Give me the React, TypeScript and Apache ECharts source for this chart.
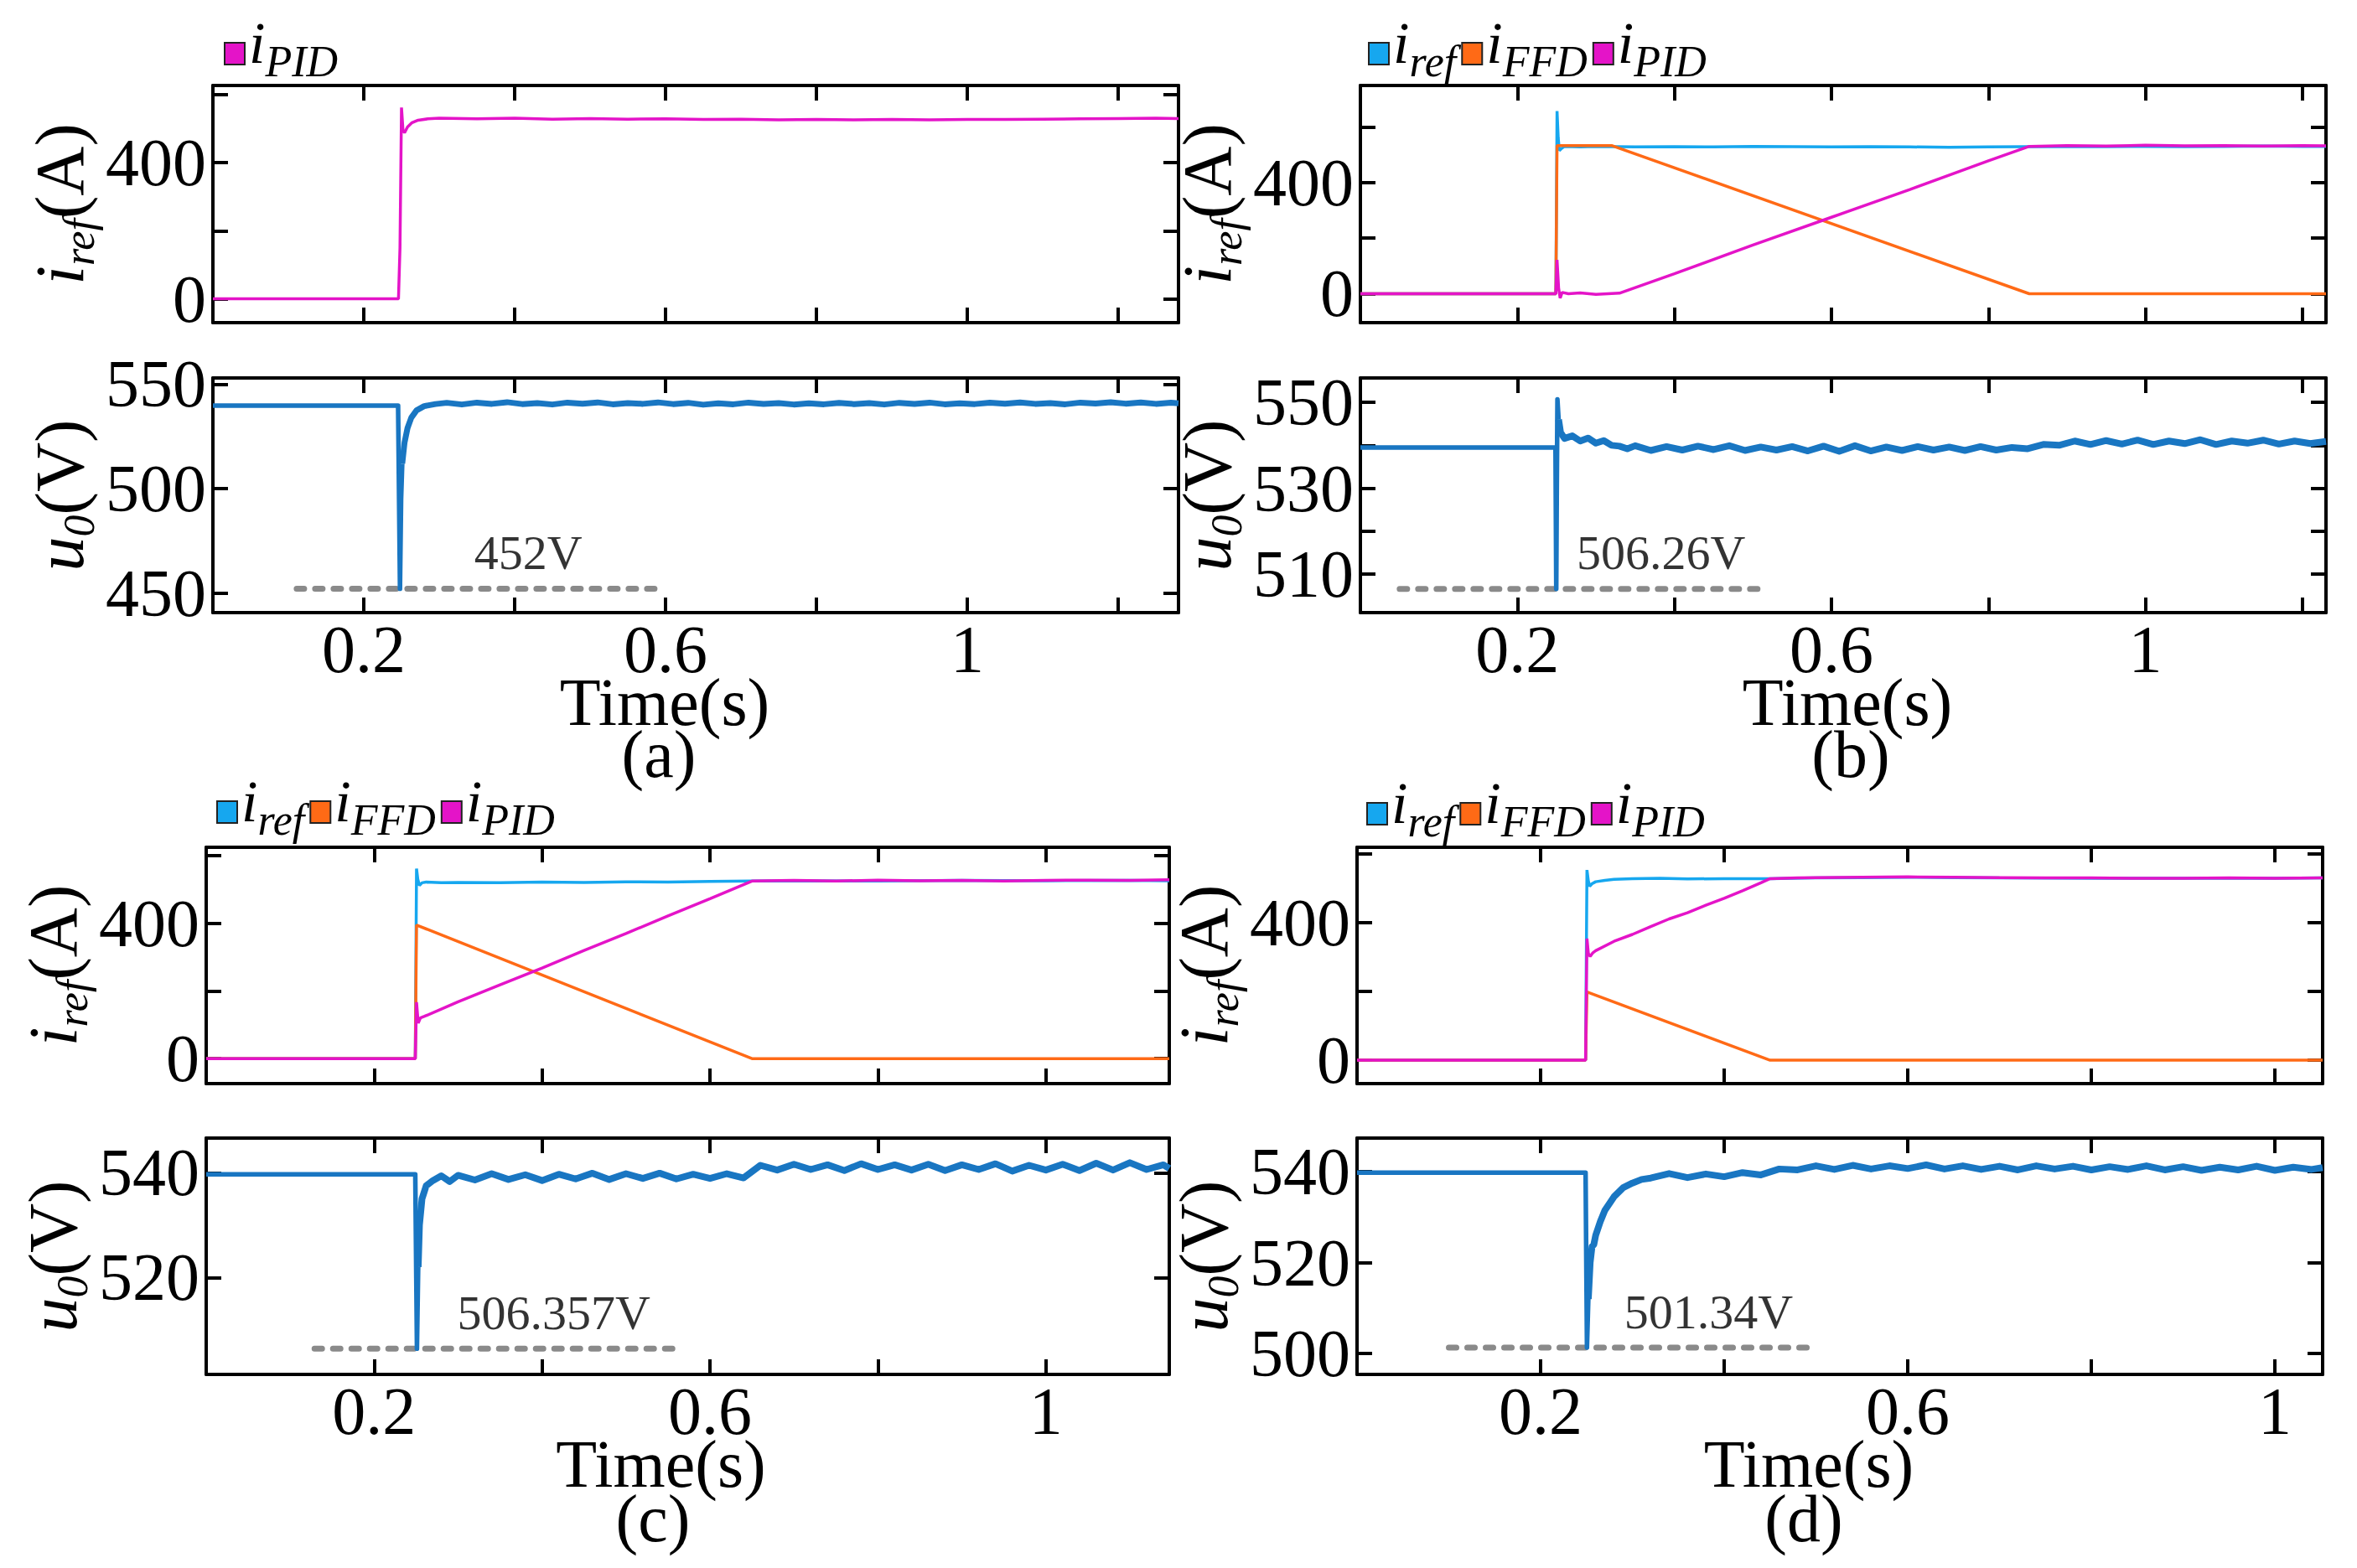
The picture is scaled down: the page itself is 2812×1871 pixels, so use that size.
import React, { useEffect, useRef } from "react";
import * as echarts from "echarts";

type Pt = [number, number];

// ---- panel (a) ----
const pidA: Pt[] = [
  [0, 0], [0.246, 0], [0.248, 150], [0.25, 562], [0.252, 495], [0.254, 488], [0.258, 505],
  [0.264, 518], [0.272, 525], [0.285, 529], [0.3, 531], [0.35, 529], [0.4, 531], [0.45, 528],
  [0.5, 530], [0.55, 528], [0.6, 529], [0.65, 527], [0.7, 528], [0.75, 526], [0.8, 527],
  [0.85, 526], [0.9, 527], [0.95, 526], [1.0, 527], [1.05, 527], [1.1, 528], [1.15, 529],
  [1.2, 530], [1.25, 531], [1.28, 530],
];
// u0: step transient, then noisy steady state
const u0A_tr: Pt[] = [[0, 539.8], [0.2455, 539.8], [0.248, 452], [0.2495, 495], [0.251, 512]];
const u0A_ss: Pt[] = [
  [0.251, 512], [0.254, 522], [0.258, 529], [0.263, 534], [0.27, 537.5], [0.28, 539.5],
  [0.295, 540.5], [0.31, 541.1], [0.33, 540.3], [0.35, 541.2], [0.37, 540.6], [0.39, 541.4],
  [0.41, 540.5], [0.43, 541.0], [0.45, 540.3], [0.47, 541.2], [0.49, 540.7], [0.51, 541.3],
  [0.53, 540.4], [0.55, 541.0], [0.57, 540.6], [0.59, 541.3], [0.61, 540.5], [0.63, 541.1],
  [0.65, 540.2], [0.67, 540.9], [0.69, 540.4], [0.71, 541.2], [0.73, 540.6], [0.75, 541.0],
  [0.77, 540.3], [0.79, 540.9], [0.81, 540.4], [0.83, 541.1], [0.85, 540.5], [0.87, 541.0],
  [0.89, 540.3], [0.91, 541.1], [0.93, 540.6], [0.95, 541.2], [0.97, 540.4], [0.99, 540.9],
  [1.01, 540.5], [1.03, 541.2], [1.05, 540.7], [1.07, 541.3], [1.09, 540.6], [1.11, 541.0],
  [1.13, 540.4], [1.15, 541.2], [1.17, 540.8], [1.19, 541.4], [1.21, 540.7], [1.23, 541.3],
  [1.25, 540.6], [1.27, 541.2], [1.28, 540.9],
];
const minLineA: Pt[] = [[0.111, 452], [0.596, 452]];
const minNoteA = { value: [0.418, 452], name: "452V" };

// ---- panel (b) ----
const refB: Pt[] = [
  [0, 0], [0.249, 0], [0.2505, 657], [0.252, 560], [0.2535, 515], [0.256, 522], [0.26, 530],
  [0.28, 528], [0.3, 530], [0.35, 528], [0.4, 529], [0.45, 528], [0.5, 530], [0.55, 529],
  [0.6, 528], [0.65, 529], [0.7, 528], [0.75, 527], [0.8, 528], [0.85, 529], [0.9, 530],
  [0.95, 529], [1.0, 530], [1.05, 529], [1.1, 530], [1.15, 531], [1.2, 530], [1.23, 530],
];
const ffdB: Pt[] = [[0, 0], [0.249, 0], [0.2505, 533], [0.32, 533], [0.852, 0], [1.23, 0]];
const pidB: Pt[] = [
  [0, 0], [0.249, 0], [0.2505, 122], [0.2525, 20], [0.2545, -16], [0.257, 5], [0.265, 0],
  [0.28, 3], [0.3, -2], [0.33, 2], [0.4, 72], [0.5, 175], [0.6, 275], [0.7, 375], [0.8, 478],
  [0.852, 530], [0.9, 533], [0.95, 531], [1.0, 534], [1.05, 532], [1.1, 533], [1.15, 531],
  [1.2, 533], [1.23, 532],
];
const u0B_tr: Pt[] = [[0, 539.5], [0.2485, 539.5], [0.2495, 506.5], [0.2502, 530], [0.251, 550.7], [0.2525, 546]];
const u0B_ss: Pt[] = [
  [0.2525, 546], [0.255, 543], [0.26, 541.6], [0.27, 542.2], [0.28, 541.0], [0.29, 541.7],
  [0.3, 540.5], [0.31, 541.1], [0.32, 540.0], [0.33, 539.8], [0.34, 539.2], [0.35, 539.9],
  [0.37, 538.8], [0.39, 539.7], [0.41, 538.9], [0.43, 539.8], [0.45, 539.0], [0.47, 539.9],
  [0.49, 538.8], [0.51, 539.6], [0.53, 538.9], [0.55, 539.7], [0.57, 538.7], [0.59, 539.8],
  [0.61, 538.6], [0.63, 539.9], [0.65, 538.7], [0.67, 539.6], [0.69, 538.8], [0.71, 539.7],
  [0.73, 538.9], [0.75, 539.6], [0.77, 538.8], [0.79, 539.7], [0.81, 538.9], [0.83, 539.5],
  [0.85, 539.2], [0.87, 540.2], [0.89, 540.0], [0.91, 541.0], [0.93, 540.2], [0.95, 541.1],
  [0.97, 540.3], [0.99, 541.2], [1.01, 540.2], [1.03, 541.0], [1.05, 540.4], [1.07, 541.3],
  [1.09, 540.2], [1.11, 541.0], [1.13, 540.5], [1.15, 541.2], [1.17, 540.3], [1.19, 541.0],
  [1.21, 540.4], [1.23, 540.9],
];
const minLineB: Pt[] = [[0.05, 506.5], [0.516, 506.5]];
const minNoteB = { value: [0.383, 506.5], name: "506.26V" };

// ---- panel (c) ----
const refC: Pt[] = [
  [0, 0], [0.249, 0], [0.2505, 562], [0.252, 530], [0.254, 512], [0.257, 520], [0.262, 522],
  [0.28, 520], [0.3, 521], [0.35, 520], [0.4, 522], [0.45, 521], [0.5, 523], [0.55, 522],
  [0.6, 524], [0.65, 525], [0.7, 526], [0.8, 525], [0.9, 527], [1.0, 526], [1.1, 527], [1.147, 526],
];
const ffdC: Pt[] = [[0, 0], [0.249, 0], [0.2505, 395], [0.65, 0], [1.147, 0]];
const pidC: Pt[] = [
  [0, 0], [0.249, 0], [0.2505, 167], [0.2525, 105], [0.255, 120], [0.26, 125], [0.3, 168],
  [0.35, 218], [0.4, 268], [0.45, 320], [0.5, 370], [0.55, 422], [0.6, 473], [0.65, 525],
  [0.7, 527], [0.75, 525], [0.8, 528], [0.85, 526], [0.9, 527], [0.95, 525], [1.0, 527],
  [1.05, 528], [1.1, 527], [1.147, 529],
];
const u0C_tr: Pt[] = [[0, 539.7], [0.249, 539.7], [0.251, 506.4], [0.2525, 522]];
const u0C_ss: Pt[] = [
  [0.2525, 522], [0.254, 530], [0.257, 535], [0.262, 537.5], [0.27, 538.5], [0.28, 539.4],
  [0.29, 538.3], [0.3, 539.5], [0.32, 538.6], [0.34, 539.8], [0.36, 538.7], [0.38, 539.6],
  [0.4, 538.5], [0.42, 539.7], [0.44, 538.8], [0.46, 539.9], [0.48, 538.7], [0.5, 539.8],
  [0.52, 538.9], [0.54, 539.9], [0.56, 538.8], [0.58, 539.7], [0.6, 538.9], [0.62, 539.8],
  [0.64, 539.0], [0.65, 540.2], [0.66, 541.4], [0.68, 540.5], [0.7, 541.6], [0.72, 540.6],
  [0.74, 541.5], [0.76, 540.4], [0.78, 541.7], [0.8, 540.6], [0.82, 541.5], [0.84, 540.5],
  [0.86, 541.6], [0.88, 540.4], [0.9, 541.5], [0.92, 540.6], [0.94, 541.7], [0.96, 540.3],
  [0.98, 541.4], [1.0, 540.5], [1.02, 541.6], [1.04, 540.4], [1.06, 541.8], [1.08, 540.5],
  [1.1, 541.9], [1.12, 540.6], [1.14, 541.5], [1.147, 540.8],
];
const minLineC: Pt[] = [[0.129, 506.4], [0.564, 506.4]];
const minNoteC = { value: [0.414, 506.4], name: "506.357V" };

// ---- panel (d) ----
const refD: Pt[] = [
  [0, 0], [0.249, 0], [0.2505, 552], [0.252, 520], [0.2535, 505], [0.256, 512], [0.26, 518],
  [0.27, 522], [0.28, 525], [0.3, 527], [0.33, 528], [0.36, 526], [0.4, 527], [0.45, 527],
  [0.5, 529], [0.55, 530], [0.6, 531], [0.65, 530], [0.7, 529], [0.8, 528], [0.9, 528],
  [1.0, 528], [1.052, 529],
];
const ffdD: Pt[] = [[0, 0], [0.249, 0], [0.2505, 198], [0.45, 0], [1.052, 0]];
const pidD: Pt[] = [
  [0, 0], [0.249, 0], [0.2505, 353], [0.252, 310], [0.254, 301], [0.257, 312], [0.26, 318],
  [0.28, 345], [0.3, 365], [0.32, 388], [0.34, 410], [0.36, 428], [0.38, 450], [0.4, 470],
  [0.42, 492], [0.44, 515], [0.45, 527], [0.48, 529], [0.5, 530], [0.55, 531], [0.6, 532],
  [0.65, 531], [0.7, 530], [0.75, 529], [0.8, 529], [0.85, 528], [0.9, 528], [0.95, 529],
  [1.0, 528], [1.052, 529],
];
const u0D_tr: Pt[] = [[0, 539.8], [0.249, 539.8], [0.2505, 501.3], [0.252, 512]];
const u0D_ss: Pt[] = [
  [0.252, 512], [0.254, 520], [0.256, 523.5], [0.258, 524], [0.26, 526], [0.265, 529],
  [0.27, 531.5], [0.28, 534.5], [0.29, 536.5], [0.3, 537.5], [0.31, 538.3], [0.32, 538.6],
  [0.34, 539.6], [0.36, 538.7], [0.38, 539.5], [0.4, 538.9], [0.42, 539.8], [0.44, 539.3],
  [0.46, 540.6], [0.48, 540.4], [0.5, 541.3], [0.52, 540.5], [0.54, 541.4], [0.56, 540.6],
  [0.58, 541.3], [0.6, 540.7], [0.62, 541.5], [0.64, 540.6], [0.66, 541.3], [0.68, 540.5],
  [0.7, 541.2], [0.72, 540.4], [0.74, 541.3], [0.76, 540.6], [0.78, 541.2], [0.8, 540.4],
  [0.82, 541.1], [0.84, 540.5], [0.86, 541.3], [0.88, 540.4], [0.9, 541.1], [0.92, 540.3],
  [0.94, 541.0], [0.96, 540.4], [0.98, 541.2], [1.0, 540.3], [1.02, 541.0], [1.04, 540.5],
  [1.052, 540.9],
];
const minLineD: Pt[] = [[0.1, 501.3], [0.497, 501.3]];
const minNoteD = { value: [0.383, 501.3], name: "501.34V" };

// ---- axes: ranges, ticks, labels ----
const xRanges = [1.28, 1.23, 1.147, 1.052];
const xTicksLong = [0.2, 0.4, 0.6, 0.8, 1.0, 1.2];
const xTicksShort = [0.2, 0.4, 0.6, 0.8, 1.0];
const xLabels = [0.2, 0.6, 1];
const curRanges: Pt[] = [[-70, 627], [-104, 749], [-74, 625], [-68, 618]];
const curTicks = [0, 200, 400, 600];
const curLabels = [0, 400];
const u0Ranges: Pt[] = [[440.6, 553], [501, 555.7], [501.5, 546.6], [495.4, 547.4]];
const u0TicksList = [[450, 500, 550], [510, 520, 530, 540, 550], [520, 540], [500, 520, 540]];
const u0LabelsList = [[450, 500, 550], [510, 530, 550], [520, 540], [500, 520, 540]];
const captions = ["(a)", "(b)", "(c)", "(d)"];

const FONT = '"Liberation Serif", "Times New Roman", serif';
const COLORS: Record<string, string> = {
  ref: "#16a7ef",
  ffd: "#ff6a16",
  pid: "#e414c8",
  u0: "#1976c2",
};
const SUBS: Record<string, string> = { ref: "ref", ffd: "FFD", pid: "PID" };

// pixel layout of the four panels
const LAYOUT = [
  { left: 254, width: 1152, top1: 102, h1: 283, top2: 451, h2: 280, legLeft: 267, legTop: 16, cap: [786, 900], timePad: [0, 74, 0, 0], ssWidth: 7 },
  { left: 1623, width: 1152, top1: 102, h1: 283, top2: 451, h2: 280, legLeft: 1632, legTop: 16, cap: [2208, 900], timePad: [0, 0, 0, 10], ssWidth: 8 },
  { left: 246, width: 1149, top1: 1011, h1: 282, top2: 1358, h2: 282, legLeft: 258, legTop: 921, cap: [779, 1812], timePad: [0, 64, 0, 0], ssWidth: 8 },
  { left: 1619, width: 1152, top1: 1011, h1: 282, top2: 1358, h2: 282, legLeft: 1630, legTop: 923, cap: [2152, 1812], timePad: [0, 74, 0, 0], ssWidth: 8 },
];

const panels = [
  { cur: [["pid", pidA]] as [string, Pt[]][], u0: [u0A_tr, u0A_ss], minLine: minLineA, minNote: minNoteA, legend: ["pid"] },
  { cur: [["ref", refB], ["ffd", ffdB], ["pid", pidB]] as [string, Pt[]][], u0: [u0B_tr, u0B_ss], minLine: minLineB, minNote: minNoteB, legend: ["ref", "ffd", "pid"] },
  { cur: [["ref", refC], ["ffd", ffdC], ["pid", pidC]] as [string, Pt[]][], u0: [u0C_tr, u0C_ss], minLine: minLineC, minNote: minNoteC, legend: ["ref", "ffd", "pid"] },
  { cur: [["ref", refD], ["ffd", ffdD], ["pid", pidD]] as [string, Pt[]][], u0: [u0D_tr, u0D_ss], minLine: minLineD, minNote: minNoteD, legend: ["ref", "ffd", "pid"] },
];

const axisLine = { show: true, onZero: false, lineStyle: { color: "#000", width: 4 } };
const tickStyle = { color: "#000", width: 4 };
const labelFont = { fontFamily: FONT, fontSize: 80, color: "#000" };

const nameRich = {
  i: { fontFamily: FONT, fontSize: 82, fontStyle: "italic", lineHeight: 82, color: "#000" },
  s: { fontFamily: FONT, fontSize: 52, fontStyle: "italic", lineHeight: 52, padding: [46, 0, 0, 0], color: "#000" },
  n: { fontFamily: FONT, fontSize: 82, lineHeight: 82, color: "#000" },
};

function buildOption() {
  const grid: any[] = [];
  const xAxis: any[] = [];
  const yAxis: any[] = [];
  const series: any[] = [];
  const legend: any[] = [];
  const graphic: any[] = [];

  panels.forEach((p, i) => {
    const L = LAYOUT[i];
    const xTicks = xRanges[i] > 1.2 ? xTicksLong : xTicksShort;
    [0, 1].forEach((row) => {
      const g = i * 2 + row;
      grid.push({
        left: L.left,
        top: row === 0 ? L.top1 : L.top2,
        width: L.width,
        height: row === 0 ? L.h1 : L.h2,
        outerBoundsMode: "none",
      });
      const isBottom = row === 1;
      xAxis.push({
        type: "value",
        gridIndex: g,
        position: "bottom",
        min: 0,
        max: xRanges[i],
        axisLine,
        axisTick: { show: true, inside: true, length: 18, lineStyle: tickStyle, customValues: xTicks },
        axisLabel: isBottom
          ? { show: true, margin: 4, customValues: xLabels, ...labelFont }
          : { show: false },
        splitLine: { show: false },
        name: isBottom ? "Time(s)" : "",
        nameLocation: "middle",
        nameGap: 76,
        nameMoveOverlap: false,
        nameTextStyle: { fontFamily: FONT, fontSize: 80, lineHeight: 62, color: "#000", padding: L.timePad },
      });
      xAxis.push({
        type: "value",
        gridIndex: g,
        position: "top",
        min: 0,
        max: xRanges[i],
        axisLine,
        axisTick: { show: true, inside: true, length: 18, lineStyle: tickStyle, customValues: xTicks },
        axisLabel: { show: false },
        splitLine: { show: false },
      });
      const range = row === 0 ? curRanges[i] : u0Ranges[i];
      const ticks = row === 0 ? curTicks : u0TicksList[i];
      const labels = row === 0 ? curLabels : u0LabelsList[i];
      yAxis.push({
        type: "value",
        gridIndex: g,
        position: "left",
        min: range[0],
        max: range[1],
        axisLine,
        axisTick: { show: true, inside: true, length: 18, lineStyle: tickStyle, customValues: ticks },
        axisLabel: { show: true, margin: 8, customValues: labels, ...labelFont },
        splitLine: { show: false },
        name: row === 0 ? "{i|i}{s|ref}{n|(A)}" : "{i|u}{s|0}{n|(V)}",
        nameLocation: "middle",
        nameRotate: 90,
        nameGap: 142,
        nameMoveOverlap: false,
        nameTextStyle: { rich: nameRich },
      });
      yAxis.push({
        type: "value",
        gridIndex: g,
        position: "right",
        min: range[0],
        max: range[1],
        axisLine,
        axisTick: { show: true, inside: true, length: 18, lineStyle: tickStyle, customValues: ticks },
        axisLabel: { show: false },
        splitLine: { show: false },
      });
    });

    const topX = i * 4;
    const botX = i * 4 + 2;
    p.cur.forEach(([name, data]) => {
      series.push({
        type: "line",
        name,
        xAxisIndex: topX,
        yAxisIndex: topX,
        data,
        symbol: "none",
        itemStyle: { color: COLORS[name] },
        lineStyle: { color: COLORS[name], width: 3.5 },
        z: 3,
      });
    });
    p.u0.forEach((data, k) => {
      series.push({
        type: "line",
        name: "u0",
        xAxisIndex: botX,
        yAxisIndex: botX,
        data,
        symbol: "none",
        itemStyle: { color: COLORS.u0 },
        lineStyle: { color: COLORS.u0, width: k === 0 ? 5.5 : L.ssWidth, join: "round" },
        z: 3,
      });
    });
    series.push({
      type: "line",
      name: "min",
      xAxisIndex: botX,
      yAxisIndex: botX,
      data: p.minLine,
      symbol: "none",
      lineStyle: { color: "#8a8a8a", width: 7, type: [9, 13], cap: "round" },
      z: 2,
    });
    series.push({
      type: "scatter",
      name: "note",
      xAxisIndex: botX,
      yAxisIndex: botX,
      data: [p.minNote],
      symbolSize: 0,
      itemStyle: { color: "#000" },
      label: {
        show: true,
        position: "top",
        distance: 14,
        formatter: "{b}",
        fontFamily: FONT,
        fontSize: 58,
        color: "#000",
      },
      z: 4,
    });

    legend.push({
      data: p.legend,
      left: L.legLeft,
      top: L.legTop,
      padding: 0,
      itemGap: 6,
      itemWidth: 24,
      itemHeight: 26,
      icon: "rect",
      selectedMode: false,
      itemStyle: { borderColor: "#222", borderWidth: 2 },
      formatter: (name: string) => `{i|i}{s|${SUBS[name]}}`,
      textStyle: {
        rich: {
          i: { fontFamily: FONT, fontSize: 70, fontStyle: "italic", lineHeight: 70, padding: [0, 0, 26, 0], color: "#000" },
          s: { fontFamily: FONT, fontSize: 52, fontStyle: "italic", lineHeight: 52, padding: [18, 0, 0, 0], color: "#000" },
        },
      },
    });

    graphic.push({
      type: "text",
      x: L.cap[0],
      y: L.cap[1],
      style: {
        text: captions[i],
        fontFamily: FONT,
        fontSize: 80,
        lineHeight: 64,
        fill: "#000",
        textAlign: "center",
        textVerticalAlign: "middle",
        align: "center",
        verticalAlign: "middle",
      },
    });
  });

  return {
    animation: false,
    backgroundColor: "#fff",
    grid,
    xAxis,
    yAxis,
    series,
    legend,
    graphic,
  };
}

const App: React.FC = () => {
  const chartRef = useRef<HTMLDivElement>(null);

  useEffect(() => {
    document.body.style.margin = "0";
    if (!chartRef.current) return;
    const chart = echarts.init(chartRef.current, undefined, { renderer: "svg" });
    chart.setOption(buildOption());
    return () => {
      chart.dispose();
    };
  }, []);

  return <div ref={chartRef} style={{ width: 2812, height: 1871 }} />;
};

export default App;
